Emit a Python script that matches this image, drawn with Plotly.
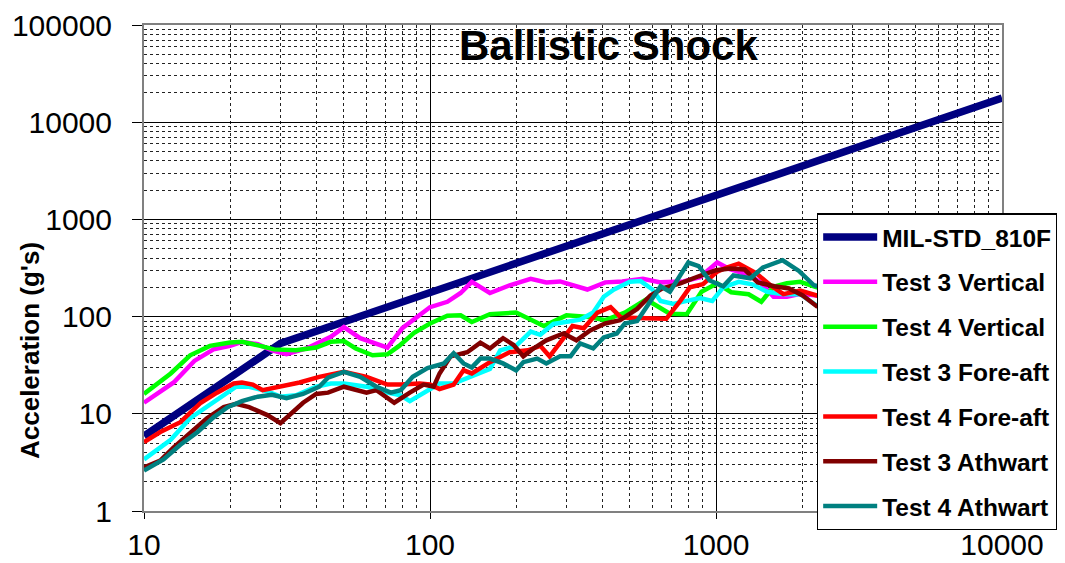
import plotly.graph_objects as go

# ── Data (frequency in Hz, acceleration in g) ─────────────────────────────────
mil_freq = [10, 30, 10000]
mil_acc = [5.9, 53, 17700]

t3v_freq = [10, 12.7, 15, 17.5, 20, 22, 25, 28, 31.5, 37, 45, 50, 57, 71, 80, 92, 100, 115,
            128, 140, 162, 190, 225, 255, 285, 355, 410, 470, 555, 640, 770, 880, 1010, 1110,
            1270, 1420, 1590, 1770, 1970, 2250, 2500]
t3v_acc = [13, 21, 35, 46, 50, 55, 52, 45, 41, 47, 62, 78, 60, 48, 76, 103, 125, 142,
           175, 228, 175, 210, 245, 225, 230, 190, 225, 230, 245, 225, 230, 255, 360, 310,
           275, 230, 160, 160, 172, 165, 160]

t4v_freq = [10, 12.4, 14.5, 17, 20, 22, 25.5, 28.5, 34, 40, 45, 50, 55, 63, 71, 78, 88, 100,
            115, 128, 140, 162, 200, 250, 300, 360, 410, 480, 570, 620, 690, 790, 890, 1010,
            1130, 1300, 1440, 1590, 1770, 1970, 2250, 2500]
t4v_acc = [16, 26, 40, 50, 54, 55, 50, 46, 45, 48, 55, 56, 47, 40, 41, 50, 68, 85,
           102, 103, 88, 106, 110, 80, 103, 99, 92, 110, 150, 130, 107, 106, 180, 220,
           178, 170, 142, 203, 220, 228, 200, 195]

t3f_freq = [10, 12.4, 14.5, 16.6, 19, 21, 23.3, 27, 30, 34, 40, 45, 50, 60, 71, 79, 85, 95,
            108, 121, 135, 150, 162, 176, 200, 225, 243, 270, 300, 335, 372, 405, 440, 500,
            545, 600, 640, 710, 790, 880, 970, 1060, 1200, 1340, 1510, 1720, 1970, 2250, 2500]
t3f_acc = [3.4, 5.4, 9, 11.8, 15.5, 19, 19, 17, 15, 15.5, 19, 20.5, 20.5, 19, 16.5, 15.5, 13.5, 16.5,
           20.5, 20.5, 23.5, 27, 29, 45, 50, 70, 65, 84, 88, 93, 110, 160, 190, 228,
           232, 190, 145, 135, 145, 155, 145, 200, 228, 215, 180, 170, 170, 130, 125]

t4f_freq = [10, 11.4, 13.4, 15.8, 18, 20.6, 22, 24, 26, 30, 35, 41, 50, 60, 71, 79, 92, 100,
            108, 121, 131, 140, 162, 190, 220, 243, 262, 293, 315, 345, 385, 428, 465, 530,
            590, 670, 750, 810, 900, 1010, 1090, 1200, 1380, 1550, 1720, 1970, 2250, 2500]
t4f_acc = [5.1, 6.5, 8.2, 13, 16.5, 20.5, 21, 20, 17.5, 19, 21, 24, 27, 24, 20, 20, 20.5, 20,
           18, 20, 28, 26, 34, 43, 45, 50, 39, 60, 80, 76, 110, 125, 98, 97,
           97, 95, 145, 200, 215, 290, 320, 350, 280, 210, 170, 185, 165, 160]

t3a_freq = [10, 11.4, 12.7, 14.5, 16.6, 19, 21, 23.3, 27, 30, 33, 36, 40, 44, 50, 60, 65, 75,
            85, 95, 103, 108, 118, 135, 150, 162, 180, 196, 212, 230, 255, 293, 325, 363,
            410, 462, 530, 590, 650, 750, 870, 1000, 1120, 1260, 1400, 1600, 1800, 2010,
            2250, 2500]
t3a_acc = [2.8, 3.3, 4.5, 6.3, 9, 11.7, 12.7, 11.7, 9.7, 8, 10.2, 13, 16, 16.5, 19, 16.5, 17.5, 13,
           16.5, 20, 19, 26, 39, 43, 54, 47, 60, 51, 39, 47, 57, 67, 57, 72,
           85, 92, 120, 165, 195, 220, 260, 300, 312, 305, 225, 205, 195, 165,
           128, 120]

t4a_freq = [10, 11.7, 13.4, 15.4, 17.5, 19.6, 22, 25, 28, 31.5, 36, 41, 44, 50, 57, 65, 73, 79,
            87, 98, 112, 121, 131, 140, 150, 162, 180, 200, 212, 237, 255, 285, 310, 335,
            372, 405, 450, 480, 530, 570, 590, 640, 690, 800, 870, 950, 1060, 1150, 1320,
            1460, 1710, 1950, 2200, 2500]
t4a_acc = [2.6, 3.4, 4.8, 6.5, 9.2, 11.7, 13.5, 15, 15.7, 14.5, 16, 19, 23.5, 27, 24, 19, 16.5, 17.5,
           24, 29.5, 33, 42, 33, 30, 37, 37, 33, 28, 34, 37, 33, 39, 39, 53,
           47, 61, 67, 85, 90, 125, 145, 205, 180, 360, 330, 235, 205, 265, 248,
           320, 380, 295, 210, 190]

x_ticks = [10, 100, 1000, 10000]
y_ticks = [1, 10, 100, 1000, 10000, 100000]

FONT = "Liberation Sans, Arial, sans-serif"

series = [
    ("MIL-STD_810F", mil_freq, mil_acc, "#000080", 7.5),
    ("Test 3 Vertical", t3v_freq, t3v_acc, "#FF00FF", 4.5),
    ("Test 4 Vertical", t4v_freq, t4v_acc, "#00FF00", 4.5),
    ("Test 3 Fore-aft", t3f_freq, t3f_acc, "#00FFFF", 4.5),
    ("Test 4 Fore-aft", t4f_freq, t4f_acc, "#FF0000", 4.5),
    ("Test 3 Athwart", t3a_freq, t3a_acc, "#800000", 4.5),
    ("Test 4 Athwart", t4a_freq, t4a_acc, "#008080", 4.5),
]

fig = go.Figure()
for name, xs, ys, color, width in series:
    fig.add_trace(go.Scatter(
        x=xs, y=ys, mode="lines", name=name, legendgroup=name,
        line=dict(color=color, width=width)))

axis_common = dict(
    type="log", showline=True, linecolor="#808080", linewidth=2, mirror=True,
    ticks="outside", tickcolor="black", tickwidth=1,
    showgrid=True, gridcolor="black", gridwidth=1,
    minor=dict(dtick="D1", showgrid=True, gridcolor="#222222", griddash="dot",
               gridwidth=1, ticks=""),
    tickfont=dict(family=FONT, size=30, color="black"),
    zeroline=False,
)

fig.update_xaxes(range=[1, 4], tickmode="array", tickvals=x_ticks, ticklen=6,
                 ticktext=[str(v) for v in x_ticks], **axis_common)
fig.update_yaxes(range=[0, 5], tickmode="array", tickvals=y_ticks, ticklen=10,
                 ticktext=[str(v) for v in y_ticks], ticklabelstandoff=14, **axis_common)

# page body has an 8px margin, so the figure is sized/offset to compensate
fig.update_layout(
    width=1057, height=555,
    margin=dict(l=136, r=63, t=17, b=52, autoexpand=False),
    paper_bgcolor="white", plot_bgcolor="white",
    font=dict(family=FONT, color="black"),
    showlegend=True,
    legend=dict(
        x=0.784, y=0.613, xanchor="left", yanchor="top",
        bgcolor="white", bordercolor="black", borderwidth=1.5,
        font=dict(family=FONT, size=24.5, color="black", weight="bold"),
        tracegroupgap=10, itemwidth=54,
    ),
    annotations=[
        dict(text="Ballistic Shock", x=0.541, y=0.957, xref="paper", yref="paper",
             xanchor="center", yanchor="middle", showarrow=False,
             font=dict(family=FONT, size=42, weight="bold")),
        dict(text="Acceleration (g's)", x=-0.133, y=0.331, xref="paper", yref="paper",
             xanchor="center", yanchor="middle", textangle=-90, showarrow=False,
             font=dict(family=FONT, size=26, weight="bold")),
    ],
)

fig.write_html("out.html")
